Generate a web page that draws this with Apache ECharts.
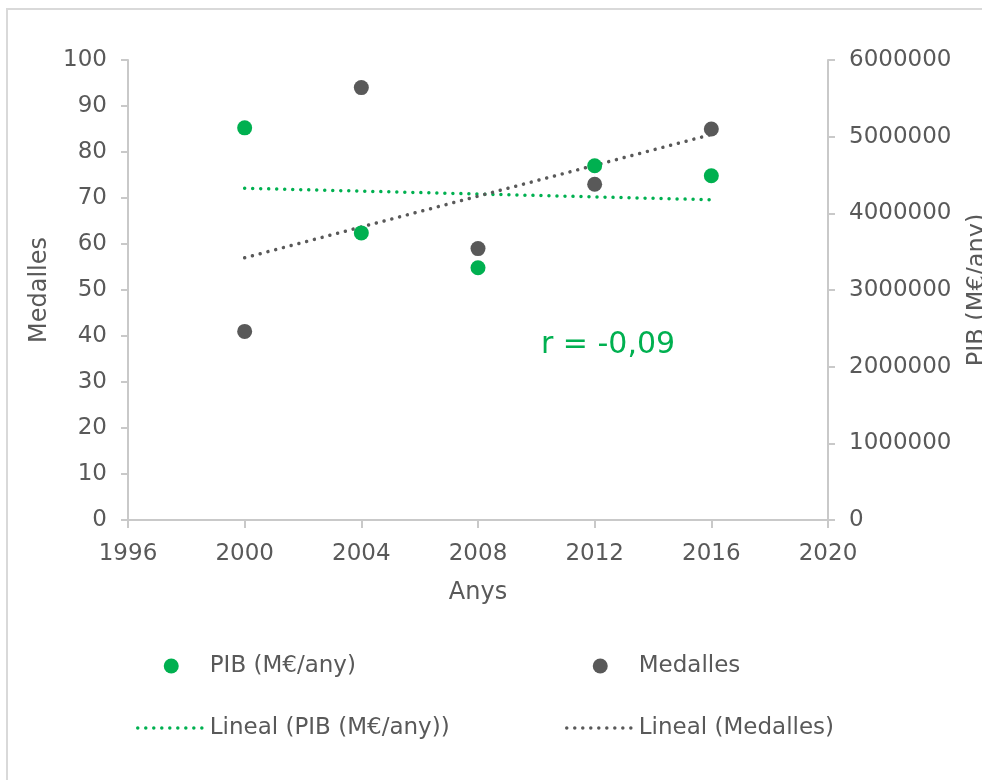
<!DOCTYPE html>
<html>
<head>
<meta charset="utf-8">
<script src="https://cdn.jsdelivr.net/npm/echarts@6/dist/echarts.min.js"></script>
<style>
html,body{margin:0;padding:0;background:#fff;overflow:hidden;}
#chart{width:982px;height:780px;}
</style>
</head>
<body>
<div id="chart"></div>
<script>
// Data
var years = [2000, 2004, 2008, 2012, 2016];
var medalles = [41, 94, 59, 73, 85];
var pib = [5115000, 3745000, 3290000, 4620000, 4490000];
var xTicks = {min: 1996, max: 2020, interval: 4};
var leftTicks = {min: 0, max: 100, interval: 10};
var rightTicks = {min: 0, max: 6000000, interval: 1000000};
var rLabel = 'r = -0,09';

function pairs(xs, ys) { return xs.map(function (x, i) { return [x, ys[i]]; }); }
function linearFit(xs, ys) {
  var n = xs.length, mx = 0, my = 0;
  for (var i = 0; i < n; i++) { mx += xs[i]; my += ys[i]; }
  mx /= n; my /= n;
  var sxy = 0, sxx = 0;
  for (var j = 0; j < n; j++) { sxy += (xs[j] - mx) * (ys[j] - my); sxx += (xs[j] - mx) * (xs[j] - mx); }
  var b = sxy / sxx, a = my - b * mx;
  var x0 = xs[0], x1 = xs[n - 1];
  return [[x0, a + b * x0], [x1, a + b * x1]];
}

var GREEN = '#00b050', GREY = '#595959', TXT = '#595959', AX = '#c9c9c9';
var FONT = 'DejaVu Sans';
var plain = function (v) { return String(v); };

var chart = echarts.init(document.getElementById('chart'), null, {renderer: 'canvas'});
var dotted = [0.01, 8];

chart.setOption({
  animation: false,
  backgroundColor: '#ffffff',
  textStyle: {fontFamily: FONT, color: TXT},
  grid: {left: 128, right: 154, top: 60, bottom: 260, containLabel: false, outerBoundsMode: 'none'},
  xAxis: {
    type: 'value', min: xTicks.min, max: xTicks.max, interval: xTicks.interval,
    name: 'Anys', nameLocation: 'middle', nameGap: 61,
    nameTextStyle: {fontSize: 24, color: TXT, fontFamily: FONT},
    axisLine: {show: true, lineStyle: {color: AX, width: 2}},
    axisTick: {show: true, length: 8, lineStyle: {color: AX, width: 2}},
    axisLabel: {fontSize: 23, color: TXT, margin: 23, fontFamily: FONT, formatter: plain},
    splitLine: {show: false}
  },
  yAxis: [{
    type: 'value', position: 'left', min: leftTicks.min, max: leftTicks.max, interval: leftTicks.interval,
    name: 'Medalles', nameLocation: 'middle', nameGap: 76,
    nameTextStyle: {fontSize: 24, color: TXT, fontFamily: FONT},
    axisLine: {show: true, lineStyle: {color: AX, width: 2}},
    axisTick: {show: true, length: 7, lineStyle: {color: AX, width: 2}},
    axisLabel: {fontSize: 23, color: TXT, margin: 21, fontFamily: FONT, formatter: plain},
    splitLine: {show: false}
  }, {
    type: 'value', position: 'right', min: rightTicks.min, max: rightTicks.max, interval: rightTicks.interval,
    name: 'PIB (M€/any)', nameLocation: 'middle', nameGap: 138, nameRotate: 90,
    nameTextStyle: {fontSize: 24, color: TXT, fontFamily: FONT},
    axisLine: {show: true, lineStyle: {color: AX, width: 2}},
    axisTick: {show: true, length: 7, lineStyle: {color: AX, width: 2}},
    axisLabel: {fontSize: 23, color: TXT, margin: 21, fontFamily: FONT, formatter: plain},
    splitLine: {show: false}
  }],
  legend: [{
    left: 131, top: 647, orient: 'vertical', itemWidth: 67, itemHeight: 15, itemGap: 34,
    textStyle: {fontSize: 23, color: TXT, fontFamily: FONT, lineHeight: 28},
    lineStyle: {width: 3.5, type: dotted, cap: 'round'},
    data: ['PIB (M€/any)', {name: 'Lineal (PIB (M€/any))', itemStyle: {opacity: 0}}],
    selectedMode: false
  }, {
    left: 560, top: 647, orient: 'vertical', itemWidth: 67, itemHeight: 15, itemGap: 34,
    textStyle: {fontSize: 23, color: TXT, fontFamily: FONT, lineHeight: 28},
    lineStyle: {width: 3.5, type: dotted, cap: 'round'},
    data: ['Medalles', {name: 'Lineal (Medalles)', itemStyle: {opacity: 0}}],
    selectedMode: false
  }],
  graphic: [{
    type: 'polyline', silent: true, z: -10,
    shape: {points: [[7, 790], [7, 9], [990, 9]]},
    style: {fill: null, stroke: '#d9d9d9', lineWidth: 2}
  }, {
    type: 'text', left: 541, top: 330, silent: true,
    style: {text: rLabel, fontSize: 30, fill: GREEN, fontFamily: FONT}
  }],
  series: [{
    name: 'Lineal (PIB (M€/any))', type: 'line', yAxisIndex: 1, z: 2,
    data: linearFit(years, pib), showSymbol: false, symbol: 'none',
    itemStyle: {color: GREEN},
    lineStyle: {color: GREEN, width: 3.5, type: dotted, cap: 'round'}
  }, {
    name: 'Lineal (Medalles)', type: 'line', yAxisIndex: 0, z: 2,
    data: linearFit(years, medalles), showSymbol: false, symbol: 'none',
    itemStyle: {color: GREY},
    lineStyle: {color: GREY, width: 3.5, type: dotted, cap: 'round'}
  }, {
    name: 'Medalles', type: 'scatter', yAxisIndex: 0, z: 3,
    data: pairs(years, medalles), symbol: 'circle', symbolSize: 15,
    itemStyle: {color: GREY, opacity: 1}
  }, {
    name: 'PIB (M€/any)', type: 'scatter', yAxisIndex: 1, z: 4,
    data: pairs(years, pib), symbol: 'circle', symbolSize: 15,
    itemStyle: {color: GREEN, opacity: 1}
  }]
});
</script>
</body>
</html>
